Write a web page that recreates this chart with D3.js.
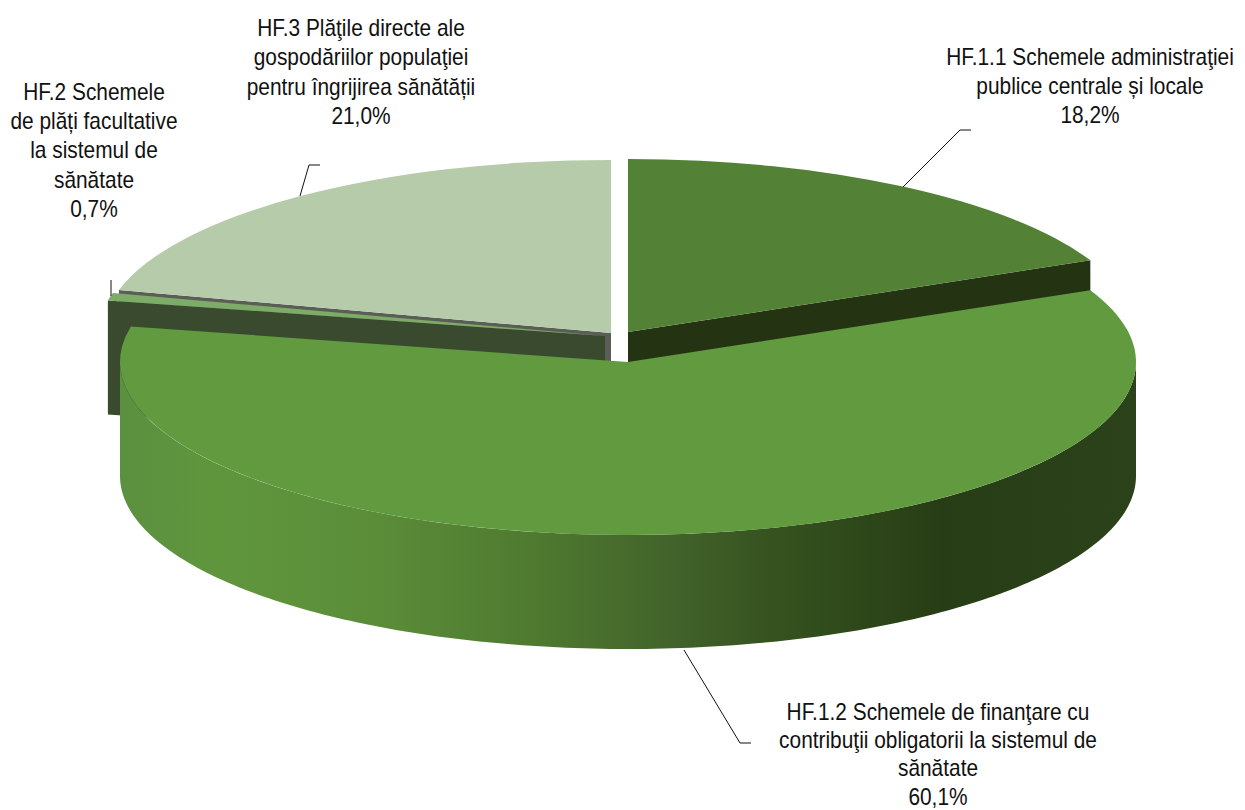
<!DOCTYPE html>
<html><head><meta charset="utf-8">
<script src="https://cdn.jsdelivr.net/npm/d3@7/dist/d3.min.js"></script>
<style>html,body{margin:0;padding:0;background:#fff}svg{display:block}text{font-family:"Liberation Sans",Arial,sans-serif;fill:#111}</style>
</head><body><svg id="c" width="1245" height="810"></svg>
<script>
const categories = ["HF.1.1","HF.1.2","HF.2","HF.3"];
const values = [18.2, 60.1, 0.7, 21.0];
const topColors = ["#538135","#619a3f","#7dab68","#b6cbaa"];
const wallColors = ["#243412",null,"#3a4a2e","#5b5e57"];
const labelLines = [
  ["HF.1.1 Schemele administraţiei","publice centrale și locale","18,2%"],
  ["HF.1.2 Schemele de finanţare cu","contribuţii obligatorii la sistemul de","sănătate","60,1%"],
  ["HF.2 Schemele","de plăți facultative","la sistemul de","sănătate","0,7%"],
  ["HF.3 Plăţile directe ale","gospodăriilor populaţiei","pentru îngrijirea sănătății","21,0%"]
];
// layout
const rx = 508, ry = 173, depth = 114;
const centers = [[628,332],[628,362],[605,336],[611,333]];
const labelPos = [[1090,65,29],[938,720,28.2],[94,100,29.2],[361,36,29.3]];
const leaders = [
  [[903,187],[960,130],[971,130]],
  [[684,650],[740,743],[751,743]],
  [[111,280],[111,296]],
  [[300,196],[309,165],[320,165]]
];
const sideStops = [[0,"#5b9040"],[0.1,"#5f963c"],[0.25,"#5b8d39"],[0.40,"#4f7b30"],[0.55,"#41622a"],[0.64,"#36531f"],[0.81,"#273d15"],[1,"#2b421a"]];

const svg = d3.select("#c");
const grad = svg.append("defs").append("linearGradient").attr("id","side");
grad.selectAll("stop").data(sideStops).join("stop").attr("offset",d=>d[0]).attr("stop-color",d=>d[1]);

const arcs = d3.pie().sort(null)(values);
const arc = d3.arc().innerRadius(0).outerRadius(rx);
const pt = (c,a,dy=0)=>[c[0]+rx*Math.sin(a), c[1]-ry*Math.cos(a)+dy];
const line = d3.line();

function topFace(i){
  svg.append("path").attr("d",arc(arcs[i])).attr("fill",topColors[i])
    .attr("transform",`translate(${centers[i]}) scale(1,${ry/rx})`);
}
function cutWall(i,angle){
  const c = centers[i], p = pt(c,angle);
  svg.append("path").attr("fill",wallColors[i])
    .attr("d",line([c,p,[p[0],p[1]+depth],[c[0],c[1]+depth]])+"Z");
}
// HF.3: wall then top
cutWall(3,arcs[3].startAngle);
topFace(3);
// HF.1.1
cutWall(0,arcs[0].endAngle);
topFace(0);
// HF.2
cutWall(2,arcs[2].startAngle);
topFace(2);
// HF.1.2: front side and top
const steps = d3.range(0,181).map(k=>Math.PI/2+k/180*Math.PI);
const c1 = centers[1];
const outer = steps.map(a=>pt(c1,a));
const lower = steps.slice().reverse().map(a=>pt(c1,a,depth));
svg.append("path").attr("fill","url(#side)").attr("d",line(outer.concat(lower))+"Z");
topFace(1);

// leaders
svg.append("g").selectAll("path").data(leaders).join("path")
  .attr("d",d=>line(d)).attr("fill","none").attr("stroke","#111").attr("stroke-width",1);

// labels
const fontSize = 23;
const probe = svg.append("text").attr("font-size",fontSize).text("contribuţii obligatorii la sistemul de");
const sx = 318/probe.node().getComputedTextLength();
probe.remove();
labelLines.forEach((lines,i)=>{
  const [x,y,lh]=labelPos[i];
  const g = svg.append("g").attr("transform",`translate(${x},${y}) scale(${sx},1)`);
  g.selectAll("text").data(lines).join("text")
    .attr("text-anchor","middle").attr("font-size",fontSize).attr("y",(d,j)=>j*lh).text(d=>d);
});
</script></body></html>
